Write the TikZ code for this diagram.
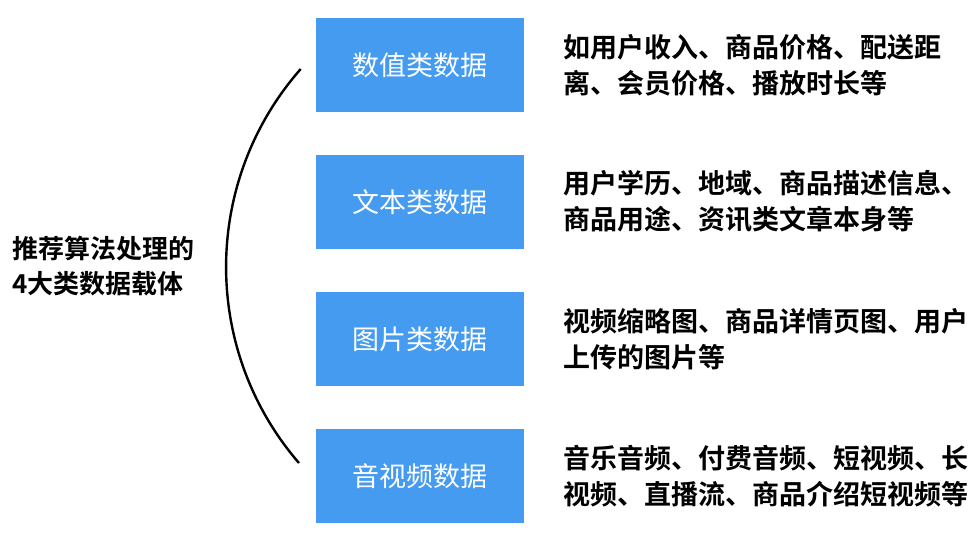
\documentclass[tikz,border=0pt]{standalone}
\usepackage{fontspec}
\setmainfont{Noto Sans CJK SC}
\newfontfamily\cjkbold{Noto Sans CJK SC Bold}
\definecolor{boxblue}{RGB}{69,155,240}
\begin{document}
\begin{tikzpicture}[x=1pt,y=-1pt,
  catbox/.style={fill=boxblue, draw=none, minimum width=208pt, minimum height=94pt, inner sep=0pt, text=white, font=\fontsize{27}{30}\selectfont},
  desc/.style={anchor=west, align=left, inner sep=0pt, text=black, font=\cjkbold\fontsize{27}{36}\selectfont},
  lefttext/.style={anchor=west, align=left, inner sep=0pt, text=black, font=\cjkbold\fontsize{26}{35}\selectfont}]
\useasboundingbox (0,0) rectangle (978,536);
\node[catbox] (b1) at (420,65) {数值类数据};
\node[catbox] (b2) at (420,202) {文本类数据};
\node[catbox] (b3) at (420,339) {图片类数据};
\node[catbox] (b4) at (420,476) {音视频数据};
\node[desc] (d1) at (563,65) {如用户收入、商品价格、配送距\\离、会员价格、播放时长等};
\node[desc] (d2) at (563,201) {用户学历、地域、商品描述信息、\\商品用途、资讯类文章本身等};
\node[desc] (d3) at (563,339) {视频缩略图、商品详情页图、用户\\上传的图片等};
\node[desc] (d4) at (563,476) {音乐音频、付费音频、短视频、长\\视频、直播流、商品介绍短视频等};
\node[lefttext] (lt) at (12,266) {推荐算法处理的\\4大类数据载体};
\coordinate (arcstart) at (300.7,69);
\draw[line width=2.4pt, black] (arcstart) arc[start angle=138.7, end angle=220.8, radius=300pt];
\end{tikzpicture}
\end{document}
